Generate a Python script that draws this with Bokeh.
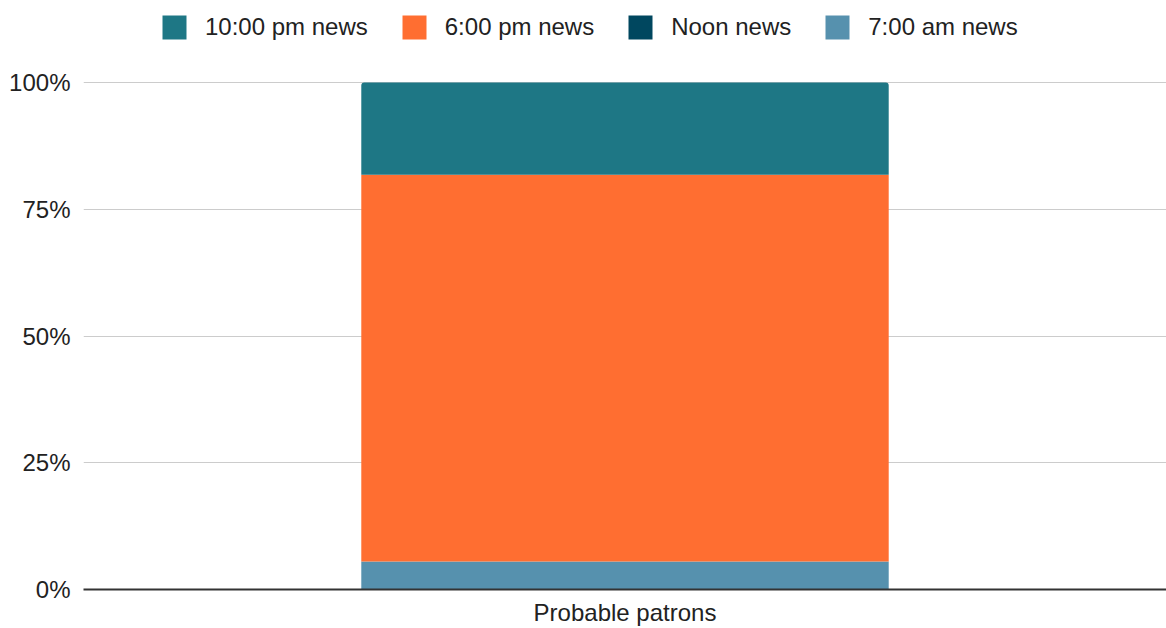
from bokeh.plotting import figure
from bokeh.models import FactorRange, Legend, LegendItem, PrintfTickFormatter, FixedTicker, Range1d
from bokeh.embed import file_html
from bokeh.resources import INLINE

# Share of probable patrons by newscast (percent of total)
categories = ["Probable patrons"]
am_7 = [5.5]
noon = [0.0]
pm_6 = [76.3]
pm_10 = [18.2]

series_keys = ["am_7", "noon", "pm_6", "pm_10"]
series_labels = ["7:00 am news", "Noon news", "6:00 pm news", "10:00 pm news"]
series_colors = ["#5691AE", "#00475F", "#FF6E31", "#1E7785"]
y_ticks = [0, 25, 50, 75, 100]

FONT = "Liberation Sans"
TEXT = "#222222"
FONT_SIZE = "24px"

W, H = 1166, 628
BOTTOM = 39          # space for the category label
PLOT_TOP = 82        # pixel row of the 100% line; legend sits above it

source = dict(cat=categories, am_7=am_7, noon=noon, pm_6=pm_6, pm_10=pm_10)

# frame runs to the top edge so the legend can sit in the headroom above 100%
frame_h = H - BOTTOM
y_end = 100 * frame_h / (frame_h - PLOT_TOP)

p = figure(
    width=W, height=H,
    x_range=FactorRange(factors=categories),
    y_range=Range1d(0, y_end),
    output_backend="svg", toolbar_location=None,
    min_border_left=83, min_border_right=0,
    min_border_top=0, min_border_bottom=BOTTOM,
)
p.outline_line_color = None

renderers = p.vbar_stack(series_keys, x="cat", width=0.487, source=source,
                         color=series_colors, line_color=None)
renderers[-1].glyph.border_radius = (3, 3, 0, 0)

# y axis
p.yaxis.ticker = FixedTicker(ticks=y_ticks)
p.yaxis.formatter = PrintfTickFormatter(format="%d%%")
p.yaxis.axis_line_color = None
p.yaxis.major_tick_line_color = None
p.yaxis.minor_tick_line_color = None
p.yaxis.major_tick_out = 0
p.yaxis.minor_tick_out = 0
p.yaxis.major_label_standoff = 13
p.yaxis.major_label_text_font = FONT
p.yaxis.major_label_text_font_size = FONT_SIZE
p.yaxis.major_label_text_color = TEXT

# x axis
p.xaxis.axis_line_color = "#333333"
p.xaxis.axis_line_width = 2
p.xaxis.major_tick_line_color = None
p.xaxis.minor_tick_line_color = None
p.xaxis.major_tick_out = 0
p.xaxis.minor_tick_out = 0
p.xaxis.major_label_standoff = 9
p.xaxis.major_label_text_font = FONT
p.xaxis.major_label_text_font_size = FONT_SIZE
p.xaxis.major_label_text_color = TEXT

p.xgrid.grid_line_color = None
p.ygrid.grid_line_color = "#CCCCCC"
p.ygrid.grid_line_width = 1

# legend across the top, latest newscast first
order = [3, 2, 1, 0]
legend = Legend(
    items=[LegendItem(label=series_labels[i], renderers=[renderers[i]]) for i in order],
    orientation="horizontal",
    location=(76, frame_h - 42),
    glyph_width=30, glyph_height=30,
    label_height=30, label_standoff=16, spacing=31,
    padding=0, margin=0,
    border_line_color=None, background_fill_alpha=0,
    label_text_font=FONT, label_text_font_size=FONT_SIZE, label_text_color=TEXT,
)
p.add_layout(legend, "center")

open("out.html", "w").write(file_html(p, INLINE))
